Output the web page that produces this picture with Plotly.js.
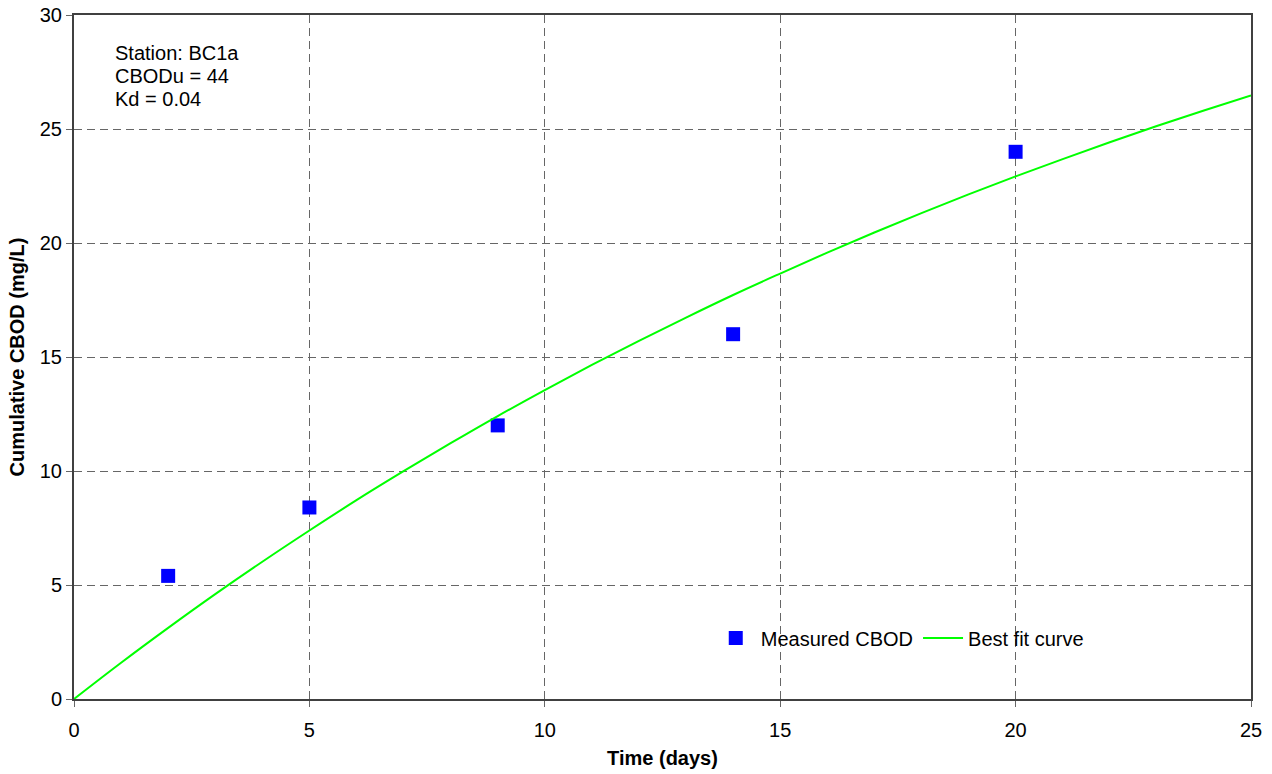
<!DOCTYPE html>
<html>
<head>
<meta charset="utf-8">
<script src="https://cdn.plot.ly/plotly-3.0.1.min.js"></script>
<style>html,body{margin:0;padding:0;background:#fff;}#chart{width:1272px;height:774px;}</style>
</head>
<body>
<div id="chart"></div>
<script>
const measuredDays = [2, 5, 9, 14, 20];
const measuredCBOD = [5.4, 8.4, 12, 16, 24];
const fitDays = [0,1,2,3,4,5,6,7,8,9,10,11,12,13,14,15,16,17,18,19,20,21,22,23,24,25];
const fitCBOD = [0,1.59,3.12,4.60,6.02,7.39,8.72,9.99,11.22,12.41,13.55,14.65,15.71,16.73,17.72,18.66,19.58,20.46,21.31,22.13,22.92,23.68,24.42,25.13,25.81,26.47];
const xTicks = [0,5,10,15,20,25];
const yTicks = [0,5,10,15,20,25,30];
const infoLines = ["Station: BC1a","CBODu = 44","Kd = 0.04"];

const font = "Liberation Sans, Arial, sans-serif";
const traces = [
  {x: measuredDays, y: measuredCBOD, type:'scatter', mode:'markers', name:'Measured CBOD',
   marker:{symbol:'square', size:14, color:'#0000FF'}},
  {x: fitDays, y: fitCBOD, type:'scatter', mode:'lines', name:'Best fit curve',
   line:{color:'#00FF00', width:2, shape:'spline'}}
];
const axisCommon = {
  showgrid:true, gridcolor:'#666666', griddash:'8px,5px', gridwidth:1,
  ticks:'outside', ticklen:6, tickcolor:'#666666', zeroline:false,
  showline:true, linecolor:'#404040', linewidth:2, mirror:true,
  tickfont:{family:font, size:20, color:'#000'}
};
const infoAnn = infoLines.map((t, i) => ({
  xref:'paper', yref:'paper', x:0.033, y:(699 - (53 + 23 * i)) / 684,
  xanchor:'left', yanchor:'middle', align:'left', showarrow:false, text:t,
  font:{family:font, size:20, color:'#000'}
}));
const layout = {
  width:1272, height:774,
  margin:{l:74, r:21, t:15, b:75},
  paper_bgcolor:'#fff', plot_bgcolor:'#fff',
  font:{family:font, color:'#000'},
  showlegend:true,
  legend:{orientation:'h', x:0.541, y:0.089, xanchor:'left', yanchor:'middle',
          font:{family:font, size:20, color:'#000'}, bgcolor:'rgba(0,0,0,0)', itemwidth:40},
  xaxis:Object.assign({}, axisCommon, {range:[0,25], tickvals:xTicks, ticklabelstandoff:6,
     title:{text:'<b>Time (days)</b>', font:{family:font, size:20}, standoff:11}}),
  yaxis:Object.assign({}, axisCommon, {range:[0,30], tickvals:yTicks,
     title:{text:'<b>Cumulative CBOD (mg/L)</b>', font:{family:font, size:20}, standoff:10}}),
  annotations: infoAnn
};
Plotly.newPlot('chart', traces, layout, {displayModeBar:false, staticPlot:true});
</script>
</body>
</html>
